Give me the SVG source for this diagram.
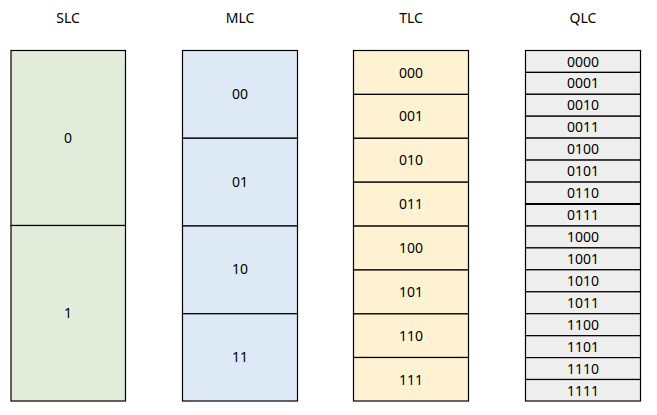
<svg xmlns="http://www.w3.org/2000/svg" width="657" height="415" viewBox="0 0 657 415">
<style>
text{font-family:"Noto Sans","Liberation Sans",sans-serif;font-size:14px;fill:#000;text-anchor:middle}
rect{stroke:#000;stroke-width:1.2}
rect.bg{stroke:none;fill:#fff}
.slc{fill:#e2ecda}
.mlc{fill:#dde9f5}
.tlc{fill:#fff2d2}
.qlc{fill:#eeeeee}
</style>
<rect class="bg" width="657" height="415"/>
<g id="titles">
<text x="68" y="23">SLC</text>
<text x="240" y="23">MLC</text>
<text x="411" y="23">TLC</text>
<text x="583" y="23">QLC</text>
</g>
<g id="slc">
<rect class="slc" x="11" y="50.5" width="114.5" height="175"/><text x="68" y="143">0</text>
<rect class="slc" x="11" y="225.5" width="114.5" height="175.5"/><text x="68" y="318">1</text>
</g>
<g id="mlc">
<rect class="mlc" x="182.5" y="50.5" width="115" height="87.75"/><text x="240" y="99">00</text>
<rect class="mlc" x="182.5" y="138.25" width="115" height="87.75"/><text x="240" y="187">01</text>
<rect class="mlc" x="182.5" y="226" width="115" height="87.75"/><text x="240" y="274">10</text>
<rect class="mlc" x="182.5" y="313.75" width="115" height="87.25"/><text x="240" y="362">11</text>
</g>
<g id="tlc">
<rect class="tlc" x="353.5" y="50.5" width="115" height="43.9"/><text x="411" y="77.5">000</text>
<rect class="tlc" x="353.5" y="94.4" width="115" height="43.9"/><text x="411" y="121.4">001</text>
<rect class="tlc" x="353.5" y="138.3" width="115" height="43.9"/><text x="411" y="165.3">010</text>
<rect class="tlc" x="353.5" y="182.2" width="115" height="43.9"/><text x="411" y="209.2">011</text>
<rect class="tlc" x="353.5" y="226.1" width="115" height="43.9"/><text x="411" y="253.1">100</text>
<rect class="tlc" x="353.5" y="270" width="115" height="43.9"/><text x="411" y="297">101</text>
<rect class="tlc" x="353.5" y="313.9" width="115" height="43.6"/><text x="411" y="340.9">110</text>
<rect class="tlc" x="353.5" y="357.5" width="115" height="43.5"/><text x="411" y="384.5">111</text>
</g>
<g id="qlc">
<rect class="qlc" x="525.5" y="50.5" width="115" height="21.9"/><text x="583" y="66.5">0000</text>
<rect class="qlc" x="525.5" y="72.4" width="115" height="21.9"/><text x="583" y="88.4">0001</text>
<rect class="qlc" x="525.5" y="94.3" width="115" height="21.9"/><text x="583" y="110.3">0010</text>
<rect class="qlc" x="525.5" y="116.2" width="115" height="21.9"/><text x="583" y="132.2">0011</text>
<rect class="qlc" x="525.5" y="138.1" width="115" height="22"/><text x="583" y="154.1">0100</text>
<rect class="qlc" x="525.5" y="160.1" width="115" height="22"/><text x="583" y="176.1">0101</text>
<rect class="qlc" x="525.5" y="182.1" width="115" height="22"/><text x="583" y="198.1">0110</text>
<rect class="qlc" x="525.5" y="204.1" width="115" height="21.9"/><text x="583" y="220">0111</text>
<line x1="525.5" y1="204.1" x2="640.5" y2="204.1" stroke="#000" stroke-width="2"/>
<rect class="qlc" x="525.5" y="226" width="115" height="21.9"/><text x="583" y="242">1000</text>
<rect class="qlc" x="525.5" y="247.9" width="115" height="21.9"/><text x="583" y="263.9">1001</text>
<rect class="qlc" x="525.5" y="269.8" width="115" height="22"/><text x="583" y="285.8">1010</text>
<rect class="qlc" x="525.5" y="291.8" width="115" height="21.9"/><text x="583" y="307.8">1011</text>
<rect class="qlc" x="525.5" y="313.7" width="115" height="22"/><text x="583" y="329.7">1100</text>
<rect class="qlc" x="525.5" y="335.7" width="115" height="21.9"/><text x="583" y="351.7">1101</text>
<rect class="qlc" x="525.5" y="357.6" width="115" height="21.9"/><text x="583" y="373.6">1110</text>
<rect class="qlc" x="525.5" y="379.5" width="115" height="21.5"/><text x="583" y="395.5">1111</text>
</g>
</svg>
